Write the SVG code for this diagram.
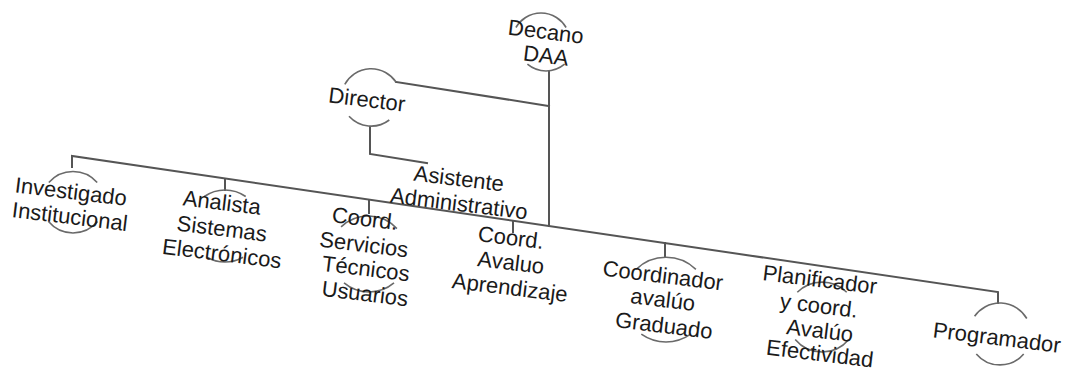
<svg xmlns="http://www.w3.org/2000/svg" width="1065" height="372" viewBox="0 0 1065 372">
<style>
.ln{stroke:#555;stroke-width:2;fill:none;stroke-linecap:square}
.arc{stroke:#6a6a6a;stroke-width:1.6;fill:none}
text{font-family:"Liberation Sans",Arial,sans-serif;font-size:22px;fill:#1a1a1a;text-anchor:middle}
</style>
<rect width="1065" height="372" fill="#fff"/>
<g id="connectors">
<path class="ln" d="M396,82 L549,106"/>
<path class="ln" d="M549,71 L549,226"/>
<path class="ln" d="M370,127 L370,154 L427,163"/>
<path class="ln" d="M72,167 L72,156 L998,292 L998,303"/>
<path class="ln" d="M225,179 L225,190"/>
<path class="ln" d="M369,200 L369,213"/>
<path class="ln" d="M513,221 L513,232"/>
<path class="ln" d="M665,243 L665,256"/>
</g>
<g id="decano">
<path class="arc" d="M515.9,27.5 A29,29 0 0 1 566.1,27.5"/>
<path class="arc" d="M564.6,64.2 A29,29 0 0 1 527.4,64.2"/>
<text x="545" y="39" transform="rotate(7 545 39)">Decano</text>
<text x="545" y="63" transform="rotate(7 545 63)">DAA</text>
</g>
<g id="director">
<path class="arc" d="M344.8,84.3 A30,30 0 0 1 396,82"/>
<path class="arc" d="M389.3,120 A30,30 0 0 1 349,116.3"/>
<text x="366" y="107" transform="rotate(7 366 107)">Director</text>
</g>
<g id="asistente">
<text x="458" y="186" transform="rotate(7 458 186)">Asistente</text>
<text x="458" y="211" transform="rotate(7 458 211)">Administrativo</text>
</g>
<g id="investigado">
<path class="arc" d="M48.8,182.6 A32,32 0 0 1 97.2,182.6"/>
<path class="arc" d="M97.5,221.6 A32,32 0 0 1 48.5,221.6"/>
<text x="70" y="199" transform="rotate(7 70 199)">Investigado</text>
<text x="69" y="224" transform="rotate(7 69 224)">Institucional</text>
</g>
<g id="analista">
<path class="arc" d="M204.3,196.5 A36,36 0 0 1 245.7,196.5"/>
<path class="arc" d="M243,257.2 A36,36 0 0 1 207,257.2"/>
<text x="221" y="210" transform="rotate(7 221 210)">Analista</text>
<text x="221" y="236" transform="rotate(7 221 236)">Sistemas</text>
<text x="221" y="261" transform="rotate(7 221 261)">Electrónicos</text>
</g>
<g id="coord-servicios">
<path class="arc" d="M341.1,226.9 A39,39 0 0 1 396.9,228.6"/>
<path class="arc" d="M394,282.9 A39,39 0 0 1 344,282.9"/>
<text x="364" y="226" transform="rotate(7 364 226)">Coord.</text>
<text x="363" y="252" transform="rotate(7 363 252)">Servicios</text>
<text x="365" y="276" transform="rotate(7 365 276)">Técnicos</text>
<text x="364" y="301" transform="rotate(7 364 301)">Usuarios</text>
</g>
<g id="coord-avaluo">
<text x="510" y="245" transform="rotate(7 510 245)">Coord.</text>
<text x="510" y="270" transform="rotate(7 510 270)">Avaluo</text>
<text x="509" y="295" transform="rotate(7 509 295)">Aprendizaje</text>
</g>
<g id="coordinador">
<path class="arc" d="M636.1,269.4 A43,43 0 0 1 695.9,269.4"/>
<path class="arc" d="M690.7,334.2 A43,43 0 0 1 641.3,334.2"/>
<text x="662" y="283" transform="rotate(7 662 283)">Coordinador</text>
<text x="662" y="307" transform="rotate(7 662 307)">avalúo</text>
<text x="663" y="333" transform="rotate(7 663 333)">Graduado</text>
</g>
<g id="planificador">
<path class="arc" d="M797.3,292.3 A35,35 0 0 1 846.7,292.3"/>
<path class="arc" d="M848.8,339.5 A35,35 0 0 1 795.2,339.5"/>
<text x="819" y="287" transform="rotate(7 819 287)">Planificador</text>
<text x="818" y="313" transform="rotate(7 818 313)">y coord.</text>
<text x="819" y="338" transform="rotate(7 819 338)">Avalúo</text>
<text x="819" y="361" transform="rotate(7 819 361)">Efectividad</text>
</g>
<g id="programador">
<path class="arc" d="M974.6,316.2 A31,31 0 0 1 1026.8,318.5"/>
<path class="arc" d="M1023.7,353.9 A31,31 0 0 1 976.3,353.9"/>
<text x="996" y="345" transform="rotate(7 996 345)">Programador</text>
</g>
</svg>
